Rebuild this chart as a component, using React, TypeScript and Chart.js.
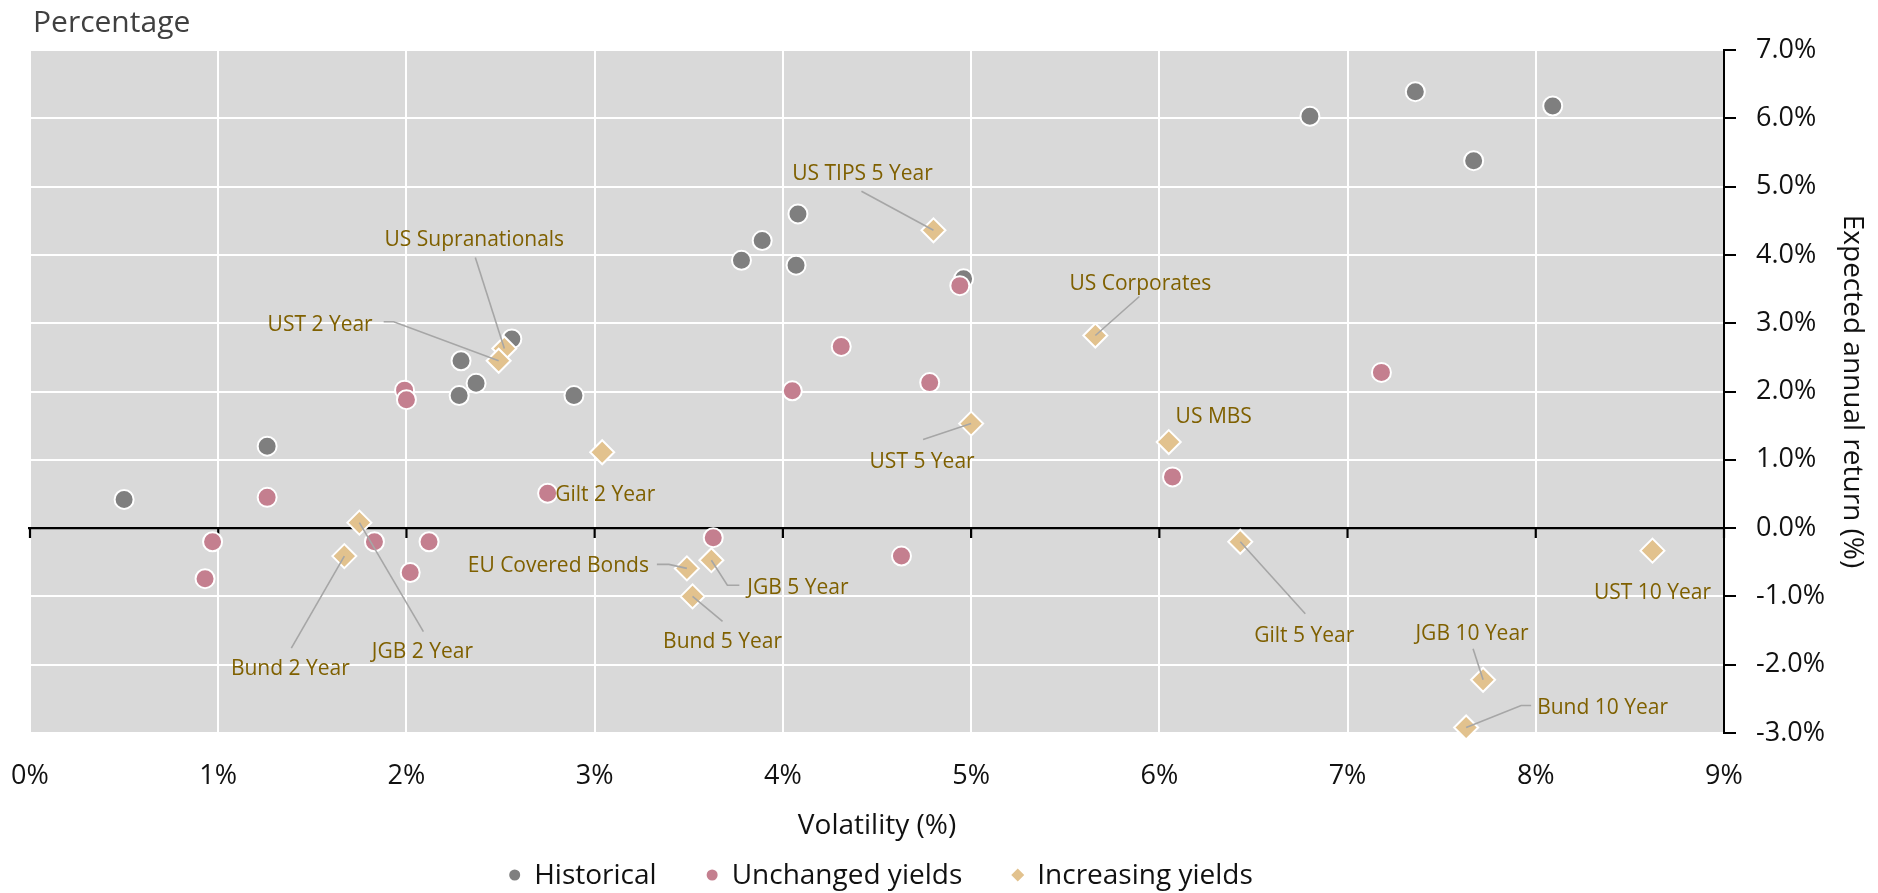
import React, { useEffect, useRef } from 'react';
import { Chart, registerables } from 'chart.js';

Chart.register(...registerables);

// ---------- data ----------
const seriesNames = ['Historical', 'Unchanged yields', 'Increasing yields'];

const historicalX = [0.50, 1.26, 2.29, 2.37, 2.28, 2.56, 2.89, 4.08, 3.89, 3.78, 4.07, 4.96, 6.80, 7.36, 7.67, 8.09];
const historicalY = [0.42, 1.20, 2.45, 2.12, 1.94, 2.77, 1.94, 4.60, 4.21, 3.92, 3.85, 3.65, 6.03, 6.39, 5.38, 6.18];

const unchangedX = [1.99, 2.00, 1.26, 0.97, 0.93, 1.83, 2.12, 2.02, 2.75, 4.31, 4.05, 4.78, 6.07, 3.63, 4.63, 4.94, 7.18];
const unchangedY = [2.02, 1.88, 0.45, -0.20, -0.74, -0.20, -0.20, -0.65, 0.51, 2.66, 2.01, 2.13, 0.75, -0.14, -0.41, 3.55, 2.28];

const increasingLabels = [
  'US Supranationals', 'UST 2 Year', 'Gilt 2 Year', 'Bund 2 Year', 'JGB 2 Year',
  'EU Covered Bonds', 'JGB 5 Year', 'Bund 5 Year', 'US TIPS 5 Year', 'US Corporates',
  'UST 5 Year', 'US MBS', 'Gilt 5 Year', 'UST 10 Year', 'JGB 10 Year', 'Bund 10 Year',
];
const increasingX = [2.52, 2.49, 3.04, 1.67, 1.75, 3.49, 3.62, 3.52, 4.80, 5.66, 5.00, 6.05, 6.43, 8.62, 7.72, 7.63];
const increasingY = [2.63, 2.45, 1.11, -0.41, 0.08, -0.59, -0.47, -1.00, 4.36, 2.82, 1.53, 1.26, -0.20, -0.33, -2.22, -2.92];

const xTickValues = [0, 1, 2, 3, 4, 5, 6, 7, 8, 9];
const yTickValues = [-3, -2, -1, 0, 1, 2, 3, 4, 5, 6, 7];

const chartTitle = 'Percentage';
const xAxisTitle = 'Volatility (%)';
const yAxisTitle = 'Expected annual return (%)';

// ---------- styles / layout (not data) ----------
const COLORS = ['#7f7f7f', '#c47f8f', '#e2c28e'];
const LABEL_COLOR = '#7f6000';
const LEADER_COLOR = '#a6a6a6';
const PLOT_BG = '#d9d9d9';
const FONT = '"Open Sans", "Noto Sans", sans-serif';

type Layout = { align: CanvasTextAlign; dx: number; dy: number; leader: number[][] };
const LABEL_LAYOUT: Layout[] = [
  { align: 'center', dx: -30, dy: -108, leader: [[-29, -91]] },
  { align: 'right', dx: -126, dy: -36, leader: [[-115, -39], [-105, -39]] },
  { align: 'center', dx: 3, dy: 43, leader: [] },
  { align: 'center', dx: -54, dy: 113, leader: [[-53, 92]] },
  { align: 'center', dx: 63, dy: 129, leader: [[64, 109]] },
  { align: 'right', dx: -38, dy: -2, leader: [[-30, -4], [-18, -4]] },
  { align: 'left', dx: 36, dy: 28, leader: [[28, 25], [16, 25]] },
  { align: 'center', dx: 30, dy: 46, leader: [[30, 25]] },
  { align: 'center', dx: -71, dy: -56, leader: [[-72, -39]] },
  { align: 'center', dx: 45, dy: -51, leader: [[44, -39]] },
  { align: 'center', dx: -49, dy: 38, leader: [[-48, 16]] },
  { align: 'center', dx: 45, dy: -25, leader: [] },
  { align: 'center', dx: 64, dy: 94, leader: [[65, 72]] },
  { align: 'center', dx: 0, dy: 42, leader: [] },
  { align: 'center', dx: -11, dy: -46, leader: [[-10, -31]] },
  { align: 'left', dx: 71, dy: -20, leader: [[65, -22], [55, -22]] },
];

const toPoints = (xs: number[], ys: number[]) => xs.map((x, i) => ({ x, y: ys[i] }));

const decorPlugin = {
  id: 'decor',
  beforeDraw(chart: any) {
    const { ctx, chartArea } = chart;
    ctx.save();
    ctx.fillStyle = PLOT_BG;
    ctx.fillRect(chartArea.left, chartArea.top, chartArea.right - chartArea.left, chartArea.bottom - chartArea.top);
    // title
    ctx.fillStyle = '#404040';
    ctx.font = `30px ${FONT}`;
    ctx.textAlign = 'left';
    ctx.textBaseline = 'alphabetic';
    ctx.fillText(chartTitle, 33, 32);
    ctx.restore();
  },
  beforeDatasetsDraw(chart: any) {
    const { ctx, chartArea, scales } = chart;
    const y0 = scales.y.getPixelForValue(0);
    ctx.save();
    ctx.strokeStyle = '#000';
    ctx.lineWidth = 2.2;
    ctx.beginPath();
    ctx.moveTo(chartArea.left - 2, y0);
    ctx.lineTo(chartArea.right, y0);
    xTickValues.forEach((v) => {
      const px = scales.x.getPixelForValue(v);
      ctx.moveTo(px, y0);
      ctx.lineTo(px, y0 + 10);
    });
    ctx.stroke();
    ctx.restore();
  },
  afterDatasetsDraw(chart: any) {
    const { ctx, scales } = chart;
    ctx.save();
    increasingLabels.forEach((label, i) => {
      const lay = LABEL_LAYOUT[i];
      const px = scales.x.getPixelForValue(increasingX[i]);
      const py = scales.y.getPixelForValue(increasingY[i]);
      if (lay.leader.length) {
        ctx.strokeStyle = LEADER_COLOR;
        ctx.lineWidth = 1.6;
        ctx.beginPath();
        ctx.moveTo(px + lay.leader[0][0], py + lay.leader[0][1]);
        for (let k = 1; k < lay.leader.length; k++) ctx.lineTo(px + lay.leader[k][0], py + lay.leader[k][1]);
        ctx.lineTo(px, py);
        ctx.stroke();
      }
      ctx.fillStyle = LABEL_COLOR;
      ctx.font = `21px ${FONT}`;
      ctx.textAlign = lay.align;
      ctx.textBaseline = 'middle';
      ctx.fillText(label, px + lay.dx, py + lay.dy);
    });
    ctx.restore();
  },
  afterDraw(chart: any) {
    const { ctx, chartArea } = chart;
    ctx.save();
    ctx.font = `28px ${FONT}`;
    ctx.textBaseline = 'middle';
    ctx.textAlign = 'left';
    const markerW = 11;
    const gapText = 14;
    const gapItem = 50;
    const widths = seriesNames.map((n) => markerW + gapText + ctx.measureText(n).width);
    const total = widths.reduce((a, b) => a + b, 0) + gapItem * (seriesNames.length - 1);
    let x = (chartArea.left + chartArea.right) / 2 - total / 2 + 4;
    const y = 875;
    seriesNames.forEach((n, i) => {
      const cx = x + markerW / 2;
      ctx.fillStyle = COLORS[i];
      ctx.beginPath();
      if (i === 2) {
        ctx.moveTo(cx, y - 6.5);
        ctx.lineTo(cx + 6.5, y);
        ctx.lineTo(cx, y + 6.5);
        ctx.lineTo(cx - 6.5, y);
        ctx.closePath();
      } else {
        ctx.arc(cx, y, 5.5, 0, Math.PI * 2);
      }
      ctx.fill();
      ctx.fillStyle = '#111';
      ctx.fillText(n, x + markerW + gapText, y + 1);
      x += widths[i] + gapItem;
    });
    ctx.restore();
  },
};

export default function App() {
  const ref = useRef<HTMLCanvasElement>(null);
  useEffect(() => {
    const canvas = ref.current;
    if (!canvas) return;
    const chart = new Chart(canvas, {
      type: 'scatter',
      data: {
        datasets: [
          {
            label: seriesNames[0],
            data: toPoints(historicalX, historicalY),
            backgroundColor: COLORS[0],
            borderColor: '#ffffff',
            borderWidth: 2,
            pointRadius: 9.5,
            pointStyle: 'circle',
            order: 3,
            clip: false as any,
          },
          {
            label: seriesNames[1],
            data: toPoints(unchangedX, unchangedY),
            backgroundColor: COLORS[1],
            borderColor: '#ffffff',
            borderWidth: 2,
            pointRadius: 9.5,
            pointStyle: 'circle',
            order: 2,
            clip: false as any,
          },
          {
            label: seriesNames[2],
            data: toPoints(increasingX, increasingY),
            backgroundColor: COLORS[2],
            borderColor: '#ffffff',
            borderWidth: 2,
            pointRadius: 12,
            pointStyle: 'rectRot',
            order: 1,
            clip: false as any,
          },
        ],
      },
      options: {
        animation: false,
        responsive: false,
        devicePixelRatio: 1,
        events: [],
        layout: { padding: { top: 50, left: 30, right: 0, bottom: 50 } },
        plugins: {
          legend: { display: false },
          title: { display: false },
          tooltip: { enabled: false },
        },
        scales: {
          x: {
            type: 'linear',
            min: 0,
            max: 9,
            afterBuildTicks: (s: any) => { s.ticks = xTickValues.map((v) => ({ value: v })); },
            afterFit: (s: any) => { s.height = 110; s.paddingLeft = 0; s.paddingRight = 0; },
            grid: { color: '#ffffff', lineWidth: 2, drawTicks: false },
            border: { display: false },
            ticks: {
              padding: 27,
              color: '#111',
              font: { family: FONT, size: 27 },
              callback: (v: any) => `${v}%`,
            },
            title: {
              display: true,
              text: xAxisTitle,
              color: '#111',
              font: { family: FONT, size: 28 },
              padding: { top: 0, bottom: 0 },
            },
          },
          y: {
            type: 'linear',
            position: 'right',
            min: -3,
            max: 7,
            afterBuildTicks: (s: any) => { s.ticks = yTickValues.map((v) => ({ value: v })); },
            afterFit: (s: any) => { s.width = 154; },
            grid: { color: '#ffffff', lineWidth: 2, tickColor: '#000', tickLength: 12, tickWidth: 2 },
            border: { display: true, color: '#000', width: 2 },
            ticks: {
              padding: 20,
              color: '#111',
              font: { family: FONT, size: 27 },
              callback: (v: any) => `${Number(v).toFixed(1)}%`,
            },
            title: {
              display: true,
              text: yAxisTitle,
              color: '#111',
              font: { family: FONT, size: 28 },
              padding: { top: 9, bottom: 0 },
            },
          },
        },
      },
      plugins: [decorPlugin],
    });
    return () => chart.destroy();
  }, []);
  return (
    <div style={{ position: 'fixed', left: 0, top: 0, width: 1878, height: 893, background: '#ffffff' }}>
      <canvas ref={ref} width={1878} height={893} style={{ display: 'block', width: 1878, height: 893 }} />
    </div>
  );
}
